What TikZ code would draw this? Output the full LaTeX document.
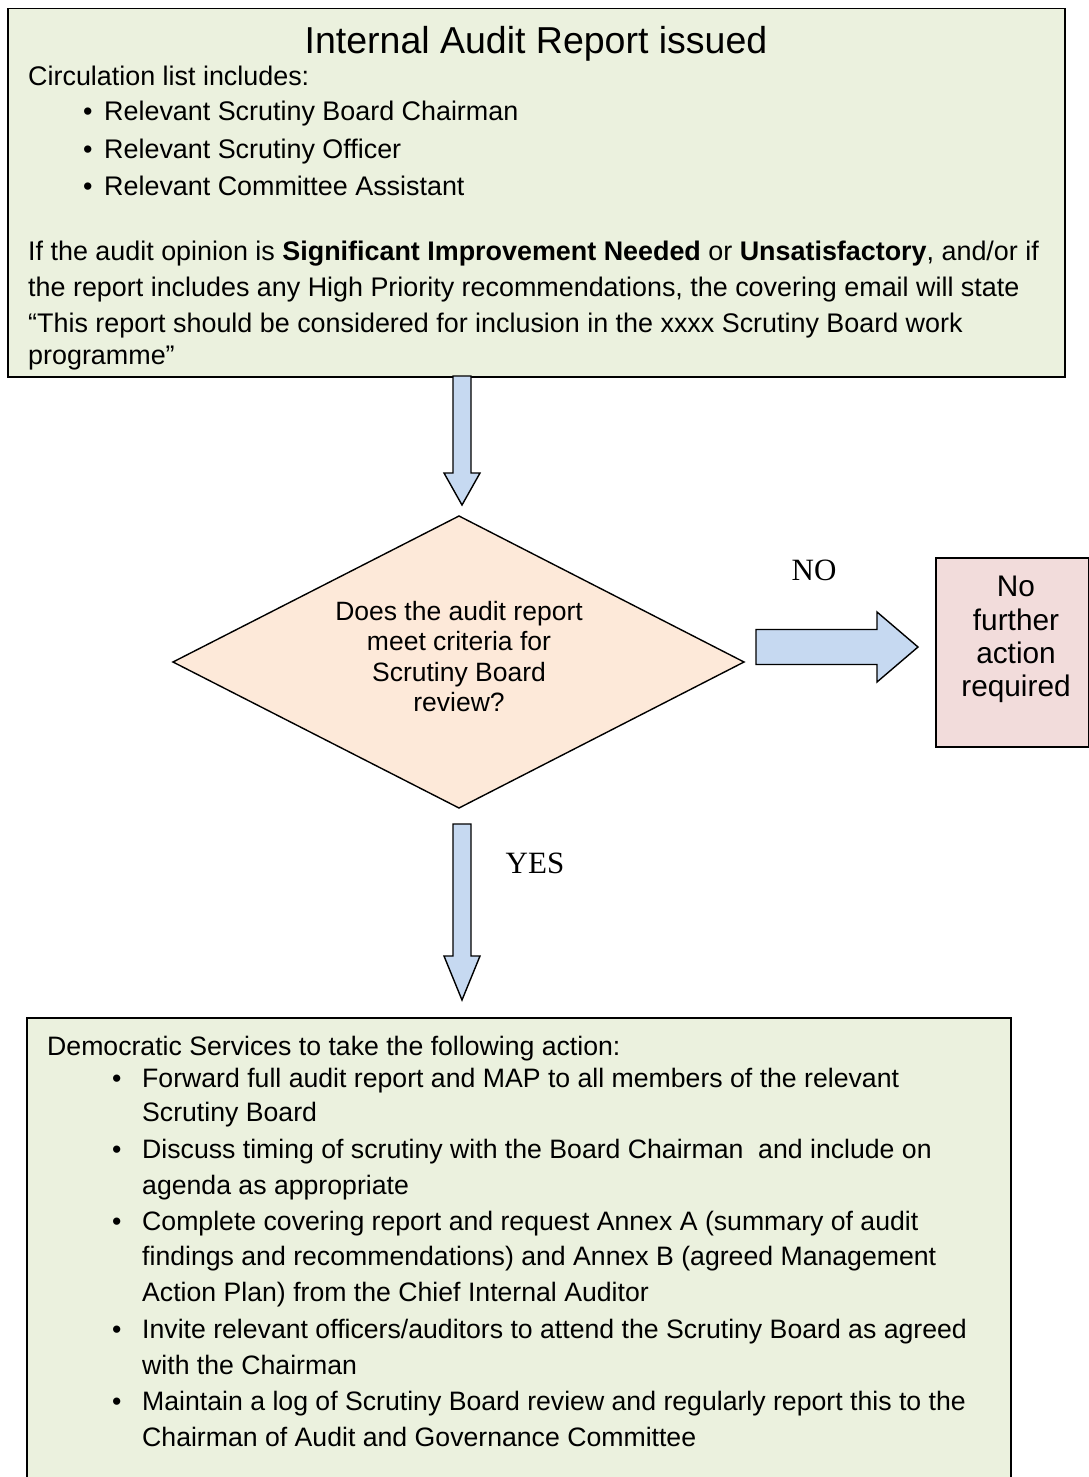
\documentclass[tikz,border=0pt]{standalone}
\usepackage{fontspec}
\setmainfont{Liberation Sans}
\newfontfamily\timesf{Liberation Serif}
\usetikzlibrary{calc}
\definecolor{boxgreen}{HTML}{EBF1DE}
\definecolor{diafill}{HTML}{FDE9D9}
\definecolor{pinkfill}{HTML}{F2DCDB}
\definecolor{arrowblue}{HTML}{C6D9F1}
\tikzset{
  panel/.style={draw=black, line width=1.5pt, fill=boxgreen, inner sep=0pt, anchor=north west},
  pinkbox/.style={draw=black, line width=1.5pt, fill=pinkfill, inner sep=0pt, anchor=north west},
  diamondst/.style={draw=black, line width=1.4pt, fill=diafill, line join=miter},
  blockarrow/.style={draw=black, line width=1.4pt, fill=arrowblue, line join=miter},
  txt/.style={anchor=base west, inner sep=0pt, font=\fontsize{26.9}{30}\selectfont},
  btxt/.style={anchor=base west, inner sep=0pt, font=\fontsize{26.65}{32}\selectfont},
  titletxt/.style={anchor=base, inner sep=0pt, font=\fontsize{37.5}{42}\selectfont},
  ctxt/.style={anchor=base, inner sep=0pt, font=\fontsize{26.5}{30}\selectfont},
  ptxt/.style={anchor=base, inner sep=0pt, font=\fontsize{29.8}{33}\selectfont},
  lbl/.style={anchor=base, inner sep=0pt, font=\fontsize{31}{35}\selectfont\timesf},
}
\newcommand\downblk[3]{%
  \draw[blockarrow] ($(#1)+(-9,0)$) -- ($(#2)+(-9,-#3)$) -- ($(#2)+(-18,-#3)$) -- (#2)
    -- ($(#2)+(18,-#3)$) -- ($(#2)+(9,-#3)$) -- ($(#1)+(9,0)$) -- cycle;}
\begin{document}
\begin{tikzpicture}[x=1pt,y=-1pt]
\clip (0,0) rectangle (1089,1477);
\fill[white] (0,0) rectangle (1089,1477);

% ---------- top box ----------
\node[panel, minimum width=1057, minimum height=368] (top) at (7,8) {};
\node[titletxt] (title) at (536,54) {Internal Audit Report issued};
\node[txt] (circ) at (28,86) {Circulation list includes:};
\node[txt] (b1) at (83,121) {•};
\node[txt] (t1) at (104,121) {Relevant Scrutiny Board Chairman};
\node[txt] (b2) at (83,158) {•};
\node[txt] (t2) at (104,158) {Relevant Scrutiny Officer};
\node[txt] (b3) at (83,195) {•};
\node[txt] (t3) at (104,195) {Relevant Committee Assistant};
\node[txt] (p1) at (28,260) {If the audit opinion is \textbf{Significant Improvement Needed} or \textbf{Unsatisfactory}, and/or if};
\node[txt] (p2) at (28,296) {the report includes any High Priority recommendations, the covering email will state};
\node[txt] (p3) at (28,332) {“This report should be considered for inclusion in the xxxx Scrutiny Board work};
\node[txt] (p4) at (28,364) {programme”};

% ---------- decision ----------
\coordinate (dL) at (173,662);
\coordinate (dT) at (459,516);
\coordinate (dR) at (744,662);
\coordinate (dB) at (459,808);
\draw[diamondst] (dL) -- (dT) -- (dR) -- (dB) -- cycle;
\node[ctxt] (q1) at (459,620) {Does the audit report};
\node[ctxt] (q2) at (459,650) {meet criteria for};
\node[ctxt] (q3) at (459,681) {Scrutiny Board};
\node[ctxt] (q4) at (459,711) {review?};

% ---------- no further action ----------
\node[pinkbox, minimum width=153, minimum height=189] (nfa) at (935,557) {};
\node[ptxt] (n1) at (1016,596) {No};
\node[ptxt] (n2) at (1016,630) {further};
\node[ptxt] (n3) at (1016,663) {action};
\node[ptxt] (n4) at (1016,696) {required};

% ---------- bottom box ----------
\node[panel, minimum width=984, minimum height=520] (bot) at (26,1017) {};
\node[btxt] (d0) at (47,1055) {Democratic Services to take the following action:};
\node[btxt] (e1) at (112,1087) {•};
\node[btxt] (d1) at (142,1087) {Forward full audit report and MAP to all members of the relevant};
\node[btxt] (d1b) at (142,1121) {Scrutiny Board};
\node[btxt] (e2) at (112,1158) {•};
\node[btxt] (d2) at (142,1158) {Discuss timing of scrutiny with the Board Chairman\ \ and include on};
\node[btxt] (d2b) at (142,1194) {agenda as appropriate};
\node[btxt] (e3) at (112,1230) {•};
\node[btxt] (d3) at (142,1230) {Complete covering report and request Annex A (summary of audit};
\node[btxt] (d3b) at (142,1265) {findings and recommendations) and Annex B (agreed Management};
\node[btxt] (d3c) at (142,1301) {Action Plan) from the Chief Internal Auditor};
\node[btxt] (e4) at (112,1338) {•};
\node[btxt] (d4) at (142,1338) {Invite relevant officers/auditors to attend the Scrutiny Board as agreed};
\node[btxt] (d4b) at (142,1374) {with the Chairman};
\node[btxt] (e5) at (112,1410) {•};
\node[btxt] (d5) at (142,1410) {Maintain a log of Scrutiny Board review and regularly report this to the};
\node[btxt] (d5b) at (142,1446) {Chairman of Audit and Governance Committee};

% ---------- arrows ----------
\coordinate (a1s) at (462,376);
\coordinate (a1e) at (462,505);
\downblk{a1s}{a1e}{32}
\coordinate (a2s) at (462,824);
\coordinate (a2e) at (462,1000);
\downblk{a2s}{a2e}{44}
\coordinate (a3s) at (756,647);
\coordinate (a3e) at (918,647);
\draw[blockarrow] ($(a3s)+(0,-17.5)$) -- ($(a3e)+(-41,-17.5)$) -- ($(a3e)+(-41,-35)$) -- (a3e)
  -- ($(a3e)+(-41,35)$) -- ($(a3e)+(-41,17.5)$) -- ($(a3s)+(0,17.5)$) -- cycle;

\node[lbl] (no) at (814,580) {NO};
\node[lbl] (yes) at (535,873) {YES};
\end{tikzpicture}
\end{document}
